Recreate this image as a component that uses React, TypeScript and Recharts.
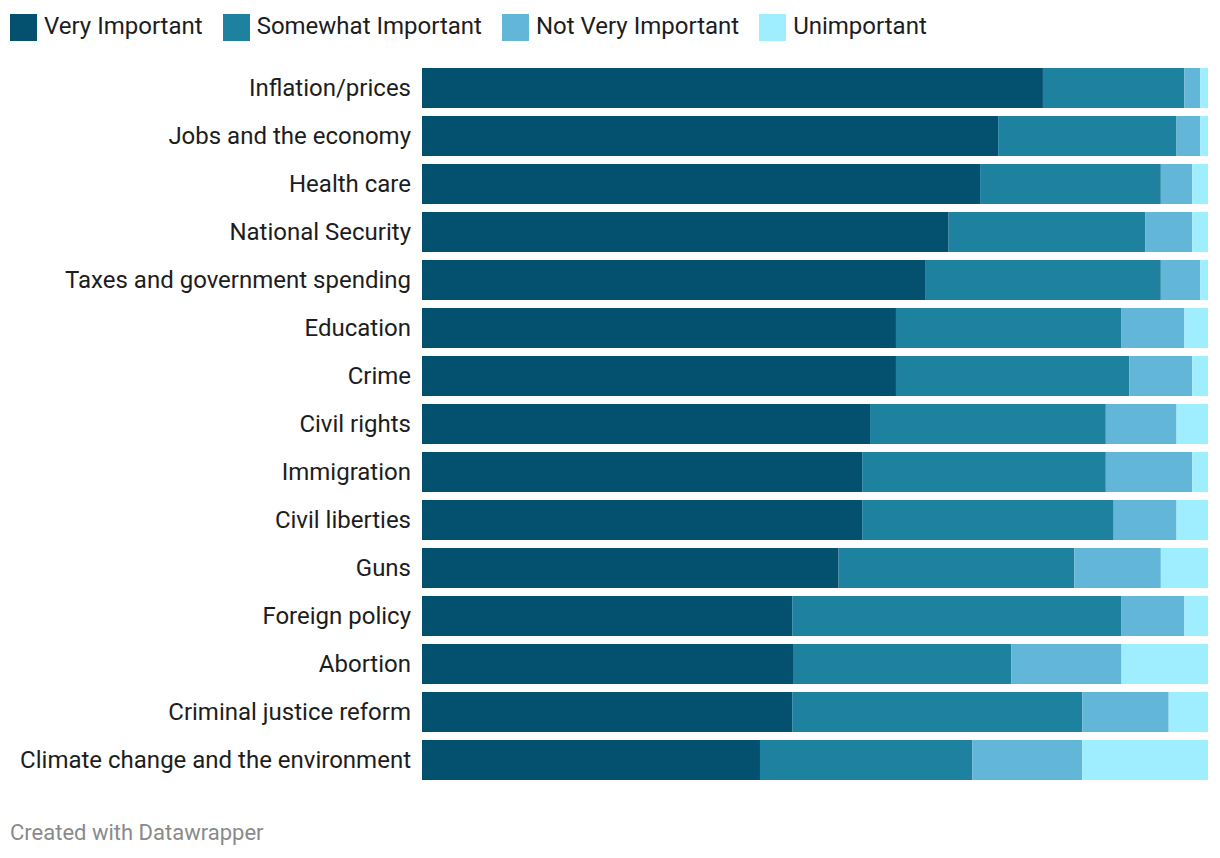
import { BarChart, Bar, XAxis, YAxis } from "recharts";

const categories = [
  "Inflation/prices",
  "Jobs and the economy",
  "Health care",
  "National Security",
  "Taxes and government spending",
  "Education",
  "Crime",
  "Civil rights",
  "Immigration",
  "Civil liberties",
  "Guns",
  "Foreign policy",
  "Abortion",
  "Criminal justice reform",
  "Climate change and the environment",
];

const veryImportant = [79, 73.3, 71, 67, 64, 60.3, 60.3, 57, 56, 56, 53, 47.1, 47.3, 47.1, 43];
const somewhatImportant = [18, 22.7, 23, 25, 30, 28.7, 29.7, 30, 31, 32, 30, 41.9, 27.7, 36.9, 27];
const notVeryImportant = [2, 3, 4, 6, 5, 8, 8, 9, 11, 8, 11, 8, 14, 11, 14];
const unimportant = [1, 1, 2, 2, 1, 3, 2, 4, 2, 4, 6, 3, 11, 5, 16];

const SERIES = [
  { key: "very", name: "Very Important", color: "#03506f" },
  { key: "somewhat", name: "Somewhat Important", color: "#1f81a0" },
  { key: "notVery", name: "Not Very Important", color: "#62b6d8" },
  { key: "unimportant", name: "Unimportant", color: "#9feeff" },
];

const data = categories.map((name, i) => ({
  name,
  very: veryImportant[i],
  somewhat: somewhatImportant[i],
  notVery: notVeryImportant[i],
  unimportant: unimportant[i],
}));

const FONT = "Roboto, 'Noto Sans', sans-serif";

export default function App() {
  return (
    <div
      style={{
        position: "absolute",
        left: 0,
        top: 0,
        width: 1220,
        height: 858,
        background: "#fff",
        fontFamily: FONT,
      }}
    >
      <div
        style={{
          position: "absolute",
          left: 10,
          top: 14,
          display: "flex",
          alignItems: "center",
          height: 27,
        }}
      >
        {SERIES.map((s) => (
          <div key={s.key} style={{ display: "flex", alignItems: "center", marginRight: 20 }}>
            <div style={{ width: 27, height: 27, background: s.color, marginRight: 7 }} />
            <span style={{ fontSize: 24, color: "#1d1d1d", lineHeight: "27px", position: "relative", top: -1 }}>
              {s.name}
            </span>
          </div>
        ))}
      </div>

      <div style={{ position: "absolute", left: 0, top: 0 }}>
        <BarChart
          width={1220}
          height={800}
          data={data}
          layout="vertical"
          margin={{ top: 64, right: 12, left: 0, bottom: 16 }}
          barCategoryGap={8}
        >
          <XAxis type="number" domain={[0, 100]} hide />
          <YAxis
            dataKey="name"
            type="category"
            width={422}
            axisLine={false}
            tickLine={false}
            tickSize={0}
            tickMargin={11}
            interval={0}
            tick={{ fontSize: 24, fill: "#1d1d1d", fontFamily: FONT, dy: -1 }}
          />
          {SERIES.map((s) => (
            <Bar
              key={s.key}
              dataKey={s.key}
              name={s.name}
              stackId="a"
              fill={s.color}
              barSize={40}
              isAnimationActive={false}
            />
          ))}
        </BarChart>
      </div>

      <div
        style={{
          position: "absolute",
          left: 10,
          top: 820,
          fontSize: 22,
          color: "#8a8a8a",
        }}
      >
        Created with Datawrapper
      </div>
    </div>
  );
}
